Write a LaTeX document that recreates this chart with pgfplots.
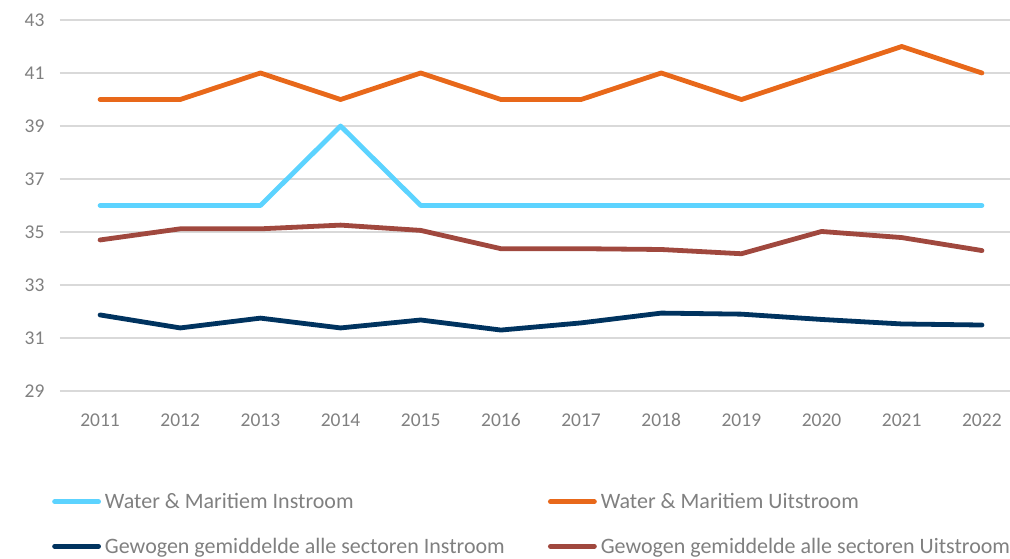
\documentclass[border=0pt]{standalone}
\usepackage{pgfplots}
\pgfplotsset{compat=1.18}
\usepackage{fontspec}
\setmainfont{Carlito}
\definecolor{lblue}{HTML}{5CD3FF}
\definecolor{orng}{HTML}{E8681A}
\definecolor{brwn}{HTML}{A0483E}
\definecolor{navy}{HTML}{00335F}
\definecolor{gridc}{HTML}{D9D9D9}
\definecolor{txt}{HTML}{808080}
\begin{document}
\begin{tikzpicture}
\path[use as bounding box] (-60pt,-167pt) rectangle (950pt,391pt);
\begin{axis}[
  at={(0,0)}, anchor=south west,
  scale only axis, width=950pt, height=371pt,
  xmin=2010.5, xmax=2022.35, ymin=29, ymax=43,
  xtick={2011,...,2022}, ytick={29,31,...,43},
  xticklabel style={/pgf/number format/1000 sep={}, text height=14pt, text depth=0pt},
  /pgf/number format/assume math mode=true,
  tick label style={font=\fontsize{19.5}{21}\selectfont, text=txt},
  axis line style={draw=none},
  major tick length=0pt,
  ymajorgrids, grid style={gridc, line width=1.2pt},
  xtick pos=bottom, ytick pos=left,
  xticklabel shift=18pt, yticklabel shift=12pt,
  clip=false,
  every axis plot/.append style={line width=4.8pt, line cap=round, line join=round},
  legend columns=2,
  legend style={draw=none, fill=none, at={(-8pt,-133pt)}, anchor=west,
    font=\fontsize{22}{24}\selectfont, text=txt,
    /tikz/every even column/.append style={column sep=0pt},
    row sep=24pt, inner sep=0pt},
  legend cell align=left,
  legend image code/.code={\draw[#1, line width=4.8pt, line cap=round] (2pt,0pt) -- (46pt,0pt);},
]
\addplot[lblue] coordinates {(2011,36)(2012,36)(2013,36)(2014,39)(2015,36)(2016,36)(2017,36)(2018,36)(2019,36)(2020,36)(2021,36)(2022,36)};
\addlegendentry{\makebox[443pt][l]{\hspace{2pt}Water \& Maritiem Instroom}}
\addplot[orng] coordinates {(2011,40)(2012,40)(2013,41)(2014,40)(2015,41)(2016,40)(2017,40)(2018,41)(2019,40)(2020,41)(2021,42)(2022,41)};
\addlegendentry{\hspace{2pt}Water \& Maritiem Uitstroom}
\addplot[navy] coordinates {(2011,31.87)(2012,31.38)(2013,31.75)(2014,31.38)(2015,31.68)(2016,31.30)(2017,31.57)(2018,31.94)(2019,31.90)(2020,31.70)(2021,31.53)(2022,31.49)};
\addlegendentry{\makebox[443pt][l]{\hspace{2pt}Gewogen gemiddelde alle sectoren Instroom}}
\addplot[brwn] coordinates {(2011,34.70)(2012,35.12)(2013,35.12)(2014,35.26)(2015,35.06)(2016,34.37)(2017,34.37)(2018,34.34)(2019,34.18)(2020,35.02)(2021,34.79)(2022,34.30)};
\addlegendentry{\hspace{2pt}Gewogen gemiddelde alle sectoren Uitstroom}
\end{axis}
\end{tikzpicture}
\end{document}
